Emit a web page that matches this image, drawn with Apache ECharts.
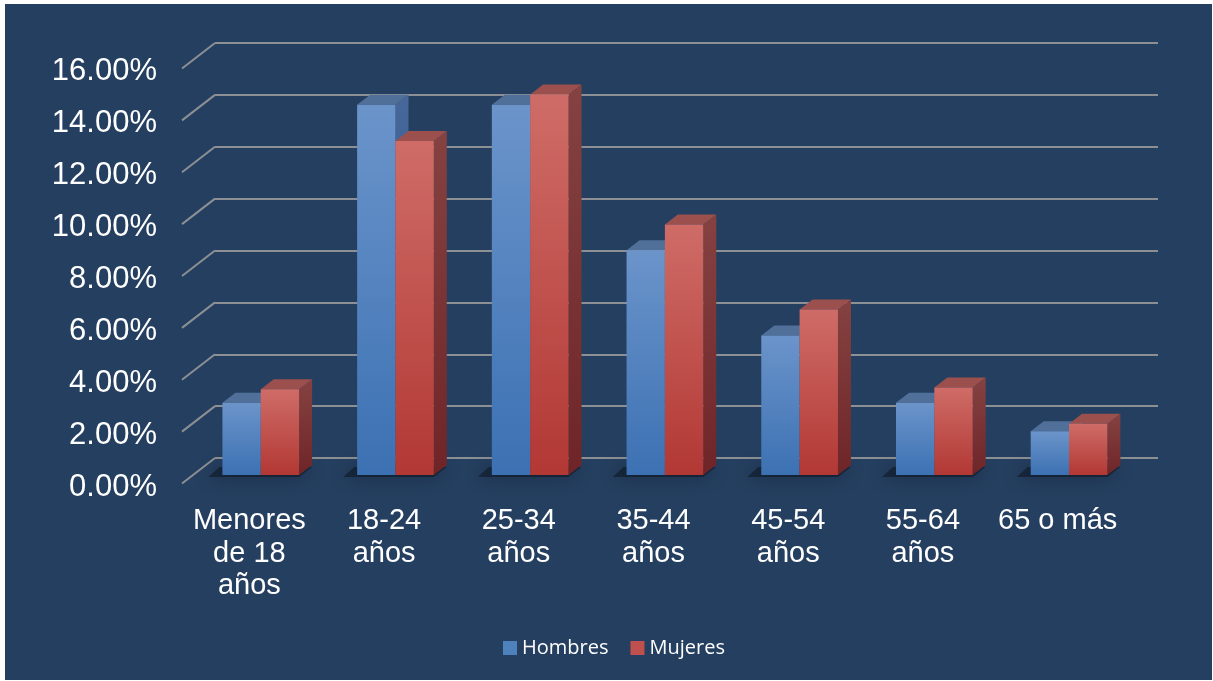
<!DOCTYPE html>
<html><head><meta charset="utf-8">
<script src="https://cdn.jsdelivr.net/npm/echarts@6.0.0/dist/echarts.min.js"></script>
<style>html,body{margin:0;padding:0;background:#fff;}#c{position:absolute;left:0;top:0;width:1213px;height:681px;}</style>
</head><body><div id="c"></div>
<script>
// ---- data ----
const categories = ['Menores\nde 18\naños', '18-24\naños', '25-34\naños', '35-44\naños', '45-54\naños', '55-64\naños', '65 o más'];
const seriesNames = ['Hombres', 'Mujeres'];
const hombres = [2.78, 14.26, 14.26, 8.65, 5.37, 2.78, 1.68];
const mujeres = [3.30, 12.86, 14.65, 9.65, 6.37, 3.37, 1.97];
const yTicks = [0, 2, 4, 6, 8, 10, 12, 14, 16];

// ---- style ----
const FONT = '"Liberation Sans", Arial, sans-serif';
const GRID_COLOR = '#8c8f94';
const DX = 13, DY = -10;           // bar depth (oblique)
const WALL_DX = 33, WALL_DY = 25.5; // side wall depth
const BAR_RATIO = 0.2846;

const LG = (c0, c1) => new echarts.graphic.LinearGradient(0, 0, 0, 1, [{offset: 0, color: c0}, {offset: 1, color: c1}]);
const palette = {
  Hombres: {front: ['#6b94ca', '#3c71b3'], side: ['#46679a', '#34578a'], top: '#506f99', legend: '#4f81bd'},
  Mujeres: {front: ['#cf6c67', '#b23834'], side: ['#854241', '#6f2528'], top: '#9b504d', legend: '#c0504d'}
};

function barRender(pal, left) {
  return function (params, api) {
    const i = api.value(0), v = api.value(1);
    const top = api.coord([i, v]);
    const base = api.coord([i, 0]);
    const band = api.size([1, 0])[0];
    const w = band * BAR_RATIO;
    const x0 = left ? top[0] - w : top[0];
    const x1 = x0 + w;
    const yT = top[1], yB = base[1];
    return {
      type: 'group',
      children: [
        {type: 'polygon', shape: {points: [[x1, yB], [x1, yT], [x1 + DX, yT + DY], [x1 + DX, yB + DY]]},
         style: {fill: LG(pal.side[0], pal.side[1])}},
        {type: 'polygon', shape: {points: [[x0, yT], [x1, yT], [x1 + DX, yT + DY], [x0 + DX, yT + DY]]},
         style: {fill: pal.top}},
        {type: 'rect', shape: {x: x0, y: yT, width: w, height: yB - yT},
         style: {fill: LG(pal.front[0], pal.front[1])}}
      ]
    };
  };
}

function shadowRender(params, api) {
  const i = api.value(0);
  const base = api.coord([i, 0]);
  const band = api.size([1, 0])[0];
  const w = band * BAR_RATIO;
  const x0 = base[0] - w, x1 = base[0] + w;
  const yB = base[1];
  return {
    type: 'polygon',
    shape: {points: [[x0 - 14, yB + 2], [x1, yB + 2], [x1 + DX, yB + DY + 2], [x0 + DX - 16, yB + DY + 2]]},
    style: {fill: 'rgba(0,0,0,0.35)', shadowBlur: 18, shadowColor: 'rgba(0,0,0,0.9)'}
  };
}

function wallRender(params, api) {
  const cs = params.coordSys;
  const p = api.coord([0, api.value(1)]);
  return {
    type: 'line',
    shape: {x1: cs.x, y1: p[1], x2: cs.x - WALL_DX, y2: p[1] + WALL_DY},
    style: {stroke: GRID_COLOR, lineWidth: 2}
  };
}

const chart = echarts.init(document.getElementById('c'));
chart.setOption({
  animation: false,
  backgroundColor: 'transparent',
  graphic: [{type: 'rect', left: 5, top: 4, shape: {width: 1207, height: 676}, style: {fill: '#253f60'}, z: -100}],
  grid: [
    {left: 215, top: 43, width: 943, height: 415},     // back wall
    {left: 182, top: 71, width: 943, height: 416},     // front plane (labels)
    {left: 193.4, top: 59.5, width: 943, height: 415.5} // bar plane
  ],
  xAxis: [
    {gridIndex: 0, type: 'category', data: categories, show: false},
    {gridIndex: 1, type: 'category', data: categories,
     axisLine: {show: false}, axisTick: {show: false},
     axisLabel: {interval: 0, color: '#ffffff', fontSize: 29, lineHeight: 32.5, fontFamily: FONT, margin: 18}},
    {gridIndex: 2, type: 'category', data: categories, show: false}
  ],
  yAxis: [
    {gridIndex: 0, type: 'value', min: 0, max: 16, interval: 2,
     axisLine: {show: false}, axisTick: {show: false}, axisLabel: {show: false},
     splitLine: {lineStyle: {color: GRID_COLOR, width: 2}}},
    {gridIndex: 1, type: 'value', min: 0, max: 16, interval: 2,
     axisLine: {show: false}, axisTick: {show: false}, splitLine: {show: false},
     axisLabel: {color: '#ffffff', fontSize: 31, fontFamily: FONT, margin: 25,
                 formatter: v => v.toFixed(2) + '%'}},
    {gridIndex: 2, type: 'value', min: 0, max: 16, show: false, splitLine: {show: false}}
  ],
  legend: {
    data: seriesNames, left: 498, top: 633, icon: 'rect', itemWidth: 14, itemHeight: 14, itemGap: 22,
    textStyle: {color: '#ffffff', fontSize: 20, fontFamily: '"Open Sans", "Noto Sans", sans-serif'}
  },
  series: [
    {type: 'custom', xAxisIndex: 0, yAxisIndex: 0, renderItem: wallRender, silent: true, z: 1,
     data: yTicks.map(t => [0, t])},
    {type: 'custom', xAxisIndex: 2, yAxisIndex: 2, renderItem: shadowRender, silent: true, z: 2,
     data: categories.map((c, i) => [i, 0])},
    {type: 'custom', name: seriesNames[0], xAxisIndex: 2, yAxisIndex: 2, z: 3,
     renderItem: barRender(palette.Hombres, true), itemStyle: {color: palette.Hombres.legend},
     data: hombres.map((v, i) => [i, v])},
    {type: 'custom', name: seriesNames[1], xAxisIndex: 2, yAxisIndex: 2, z: 4,
     renderItem: barRender(palette.Mujeres, false), itemStyle: {color: palette.Mujeres.legend},
     data: mujeres.map((v, i) => [i, v])}
  ]
});
</script>
</body></html>
